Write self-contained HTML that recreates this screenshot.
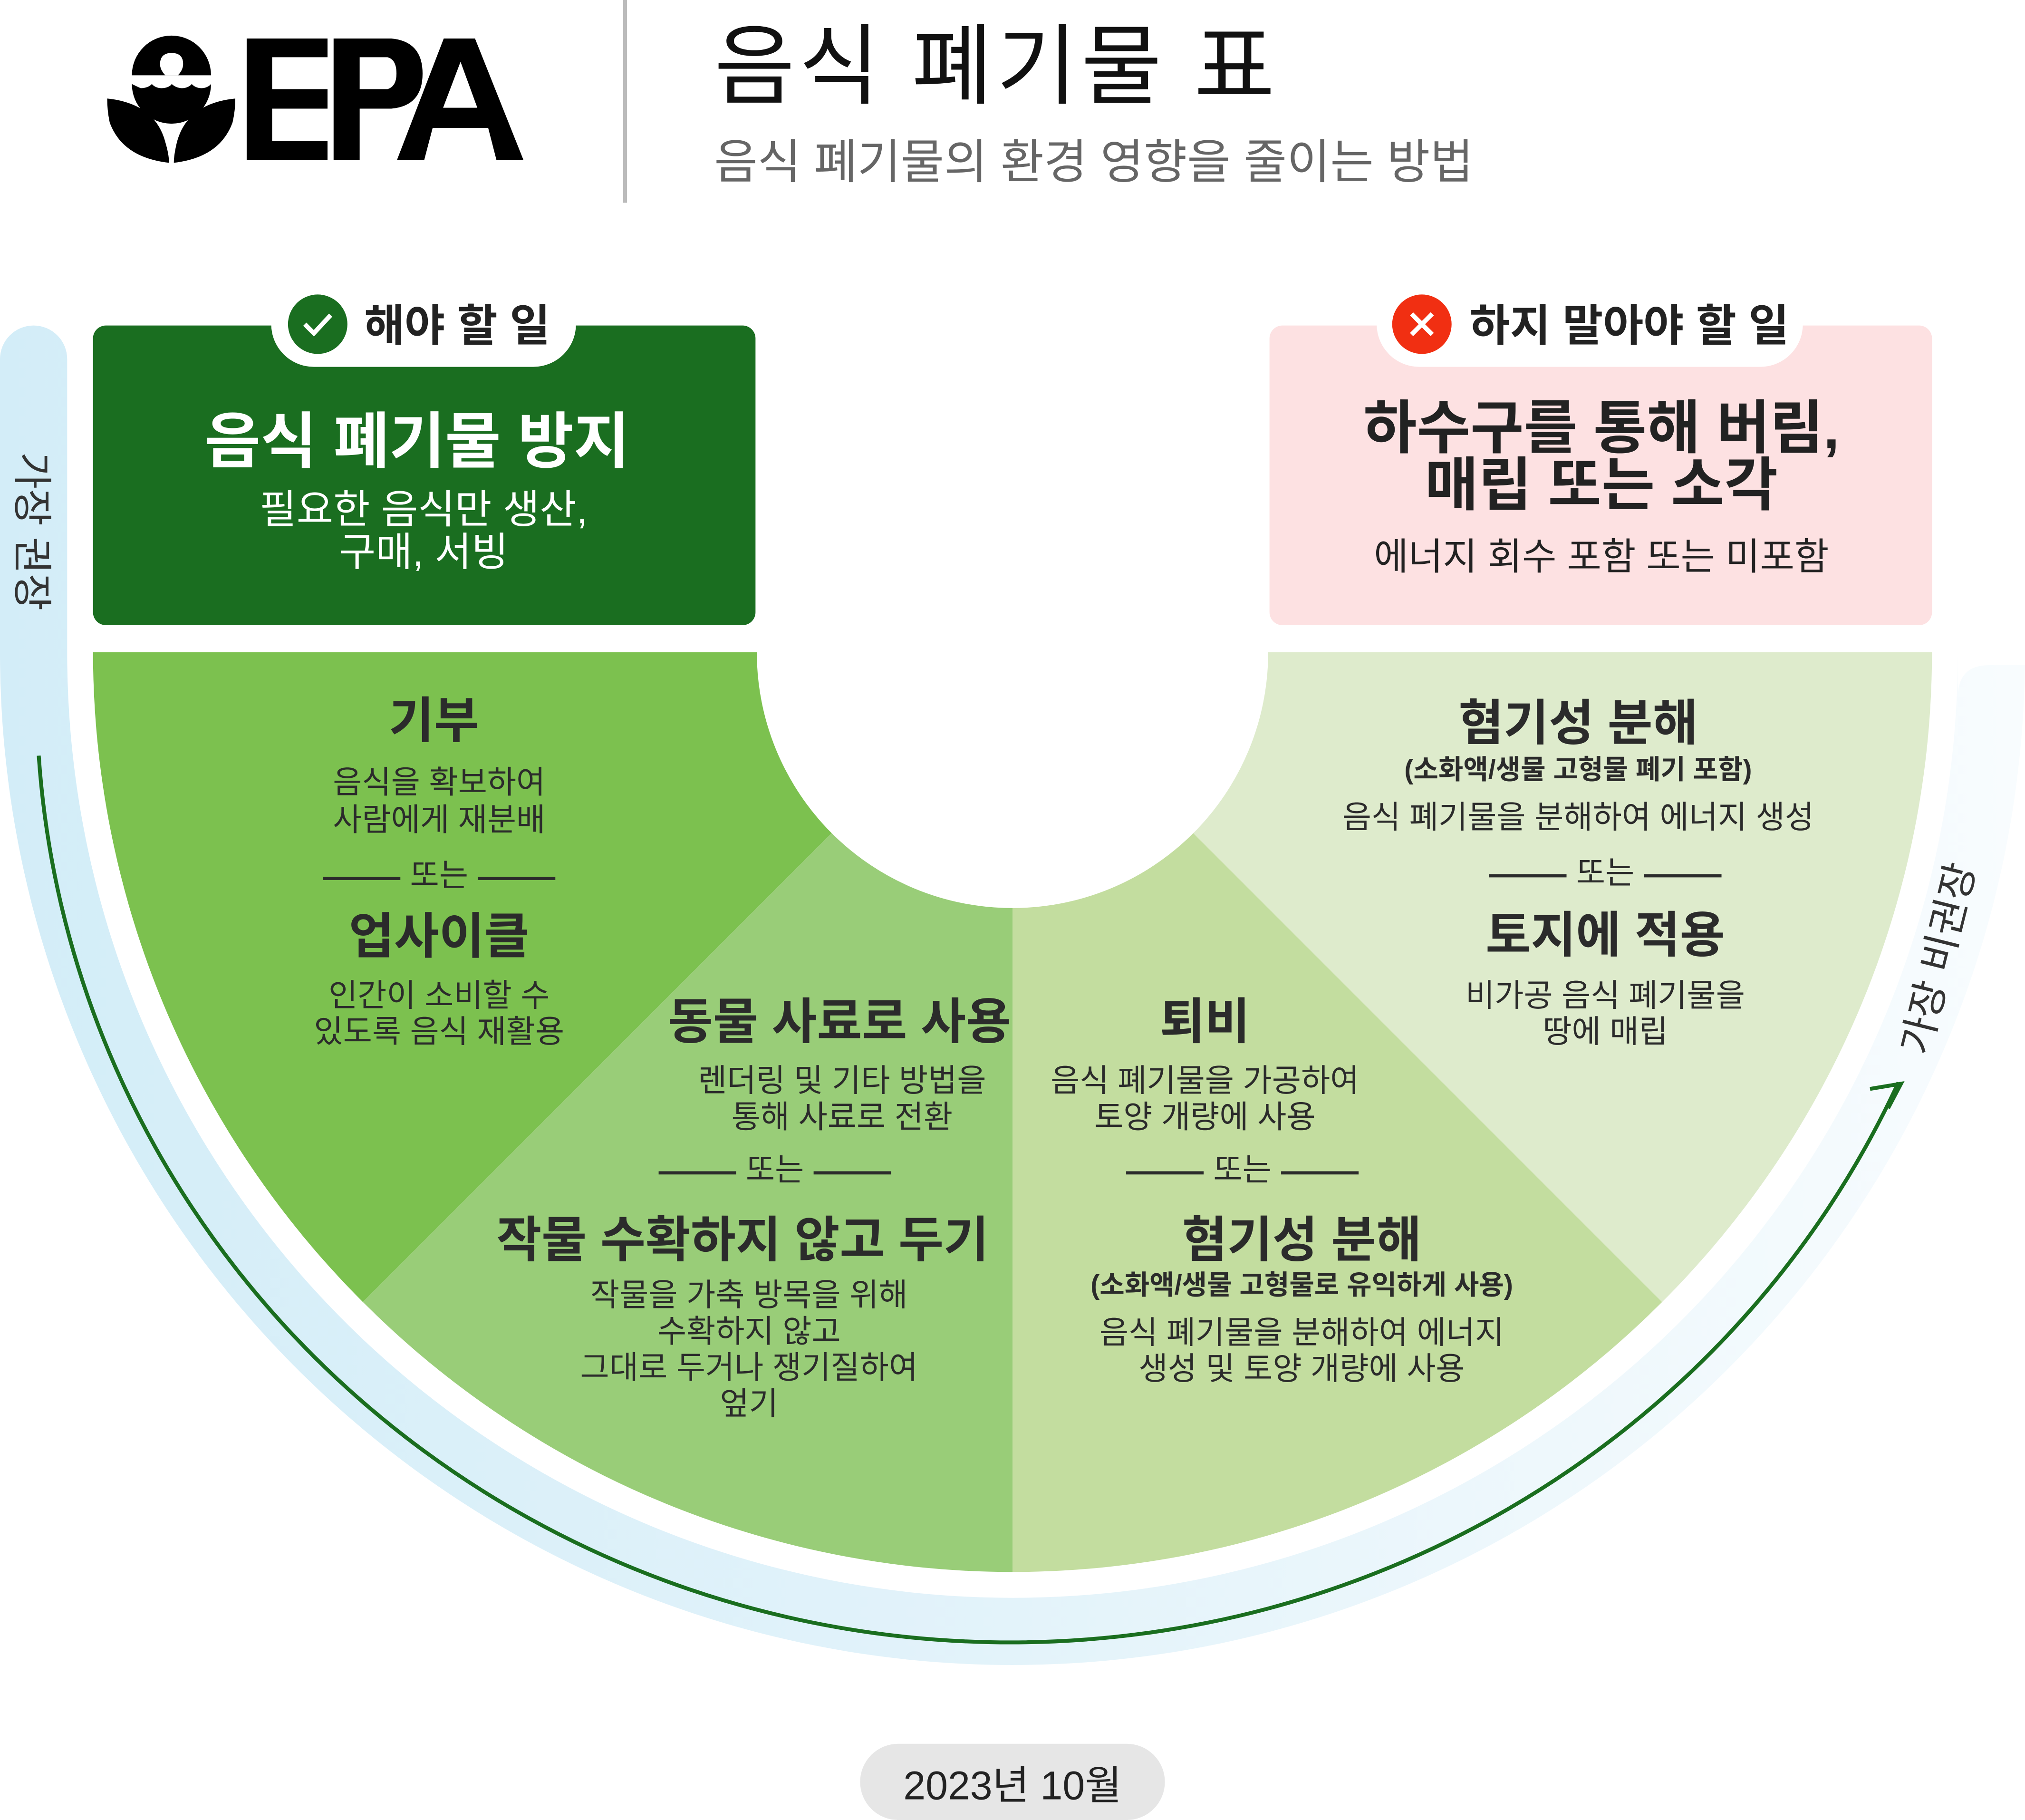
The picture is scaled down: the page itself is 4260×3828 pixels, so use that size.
<!DOCTYPE html>
<html><head><meta charset="utf-8">
<style>
html,body{margin:0;padding:0;background:#fff;}
svg{display:block;}
text{font-family:"Liberation Sans","Noto Sans CJK KR",sans-serif;}
.b{font-weight:700;}
</style></head>
<body>
<svg width="4260" height="3828" viewBox="0 0 1568 1409" xmlns="http://www.w3.org/2000/svg">
<defs>
<linearGradient id="band" x1="0" y1="0" x2="1" y2="0">
<stop offset="0" stop-color="#d3edf8"/>
<stop offset="0.5" stop-color="#e3f3fa"/>
<stop offset="1" stop-color="#f8fcfe"/>
</linearGradient>
</defs>
<rect width="1568" height="1409" fill="#fff"/>

<!-- Logo -->
<g fill="#000">
<path d="M102.1,58.3 A30.6,30.7 0 0 1 163.4,58.3 Z"/>
<path d="M102.1,65 Q104,66 109,68.3 Q115,68 117.6,65 Q120,68 125,68.3 Q131,68 133,65 Q136,68 141,68.3 Q146,68 148.5,65 Q151,68 156,68.3 Q161,68 163.4,65 A30.6,30.7 0 0 1 102.1,65 Z"/>
<path d="M83,76.3 Q120,80 128,110 Q131,120 130.8,126 Q95,122 85,95 Q83,86 83,76.3 Z"/>
<path d="M182.2,76.3 Q145,80 137,110 Q134.6,120 134.6,126 Q170,122 180,95 Q182.2,86 182.2,76.3 Z"/>
<path d="M191,29.8 H253.6 V44.3 H210.7 V69 H253.6 V84.1 H210.7 V109.2 H253.6 V123.8 H191 Z"/>
<path d="M258.3,29.8 H303 Q327.2,32 327.2,57 Q327.2,82 303,84.1 H278.5 V123.8 H258.3 Z M278.5,44.3 V69 H300 Q307,67 307,57 Q307,46 300,44.3 Z" fill-rule="evenodd"/>
<path d="M343.6,29.8 H367.8 L405.3,123.8 H384.4 L378,99 H335 L328.5,123.8 H307.4 Z M356.6,47.8 L343.1,83.4 H369.6 Z" fill-rule="evenodd"/>
</g>
<path d="M128,58.3 Q123.9,54 123.9,49.6 Q124,41 132.9,41 Q141.8,41 141.8,49.6 Q141.8,54 137.8,58.3 Z" fill="#fff"/>

<line x1="484" y1="0" x2="484" y2="157" stroke="#bbb" stroke-width="3"/>
<text x="553" y="75" font-size="68" fill="#111" letter-spacing="3">음식 폐기물 표</text>
<text x="553" y="138" font-size="36.5" fill="#666">음식 폐기물의 환경 영향을 줄이는 방법</text>

<!-- blue band -->
<path d="M0,278 A26,26 0 0 1 52,278 L52,505 A732,732 0 0 0 1516,505 L1516,540 Q1516,515 1540,515 L1568,515 L1568,505 A784,784 0 0 1 0,505 Z" fill="url(#band)"/>
<text transform="translate(14,350) rotate(90)" font-size="31" fill="#333">가장 권장</text>
<text transform="translate(1493,818) rotate(-76)" font-size="31" fill="#333">가장 비권장</text>

<!-- arrow -->
<path d="M30,585 A754,735 0 0 0 1470,838" fill="none" stroke="#1a6e1f" stroke-width="3"/>
<path d="M1448,843 L1472,839 L1462,858" fill="none" stroke="#1a6e1f" stroke-width="3"/>

<!-- top boxes -->
<rect x="72" y="252" width="513" height="232" rx="10" fill="#1a6e20"/>
<rect x="983" y="252" width="513" height="232" rx="10" fill="#fde1e2"/>
<rect x="210" y="218" width="236" height="66" rx="33" fill="#fff"/>
<circle cx="246" cy="251" r="23" fill="#1a6e20"/>
<path d="M236,251 L243,258 L256,244" fill="none" stroke="#fff" stroke-width="3.5"/>
<text x="282" y="264" font-size="34" class="b" fill="#222">해야 할 일</text>
<rect x="1066" y="218" width="330" height="66" rx="33" fill="#fff"/>
<circle cx="1101" cy="251" r="23" fill="#f12f12"/>
<path d="M1093,243 L1109,259 M1109,243 L1093,259" stroke="#fff" stroke-width="3.5"/>
<text x="1138" y="264" font-size="34" class="b" fill="#222">하지 말아야 할 일</text>

<g text-anchor="middle">
<text x="323" y="358" font-size="47" class="b" fill="#fff">음식 폐기물 방지</text>
<text x="328" y="405" font-size="31" fill="#fff">필요한 음식만 생산,</text>
<text x="328" y="438" font-size="31" fill="#fff">구매, 서빙</text>
<text x="1240" y="347" font-size="45" class="b" fill="#222">하수구를 통해 버림,</text>
<text x="1240" y="391" font-size="45" class="b" fill="#222">매립 또는 소각</text>
<text x="1240" y="441" font-size="29" fill="#222">에너지 회수 포함 또는 미포함</text>
</g>

<!-- donut -->
<path d="M72,505 L586,505 A198,198 0 0 0 644,645 L281,1008 A712,712 0 0 1 72,505 Z" fill="#7cc14f"/>
<path d="M644,645 A198,198 0 0 0 784,703 L784,1217 A712,712 0 0 1 281,1008 Z" fill="#99cd78"/>
<path d="M784,703 A198,198 0 0 0 924,645 L1287,1008 A712,712 0 0 1 784,1217 Z" fill="#c3dd9f"/>
<path d="M924,645 A198,198 0 0 0 982,505 L1496,505 A712,712 0 0 1 1287,1008 Z" fill="#deebcc"/>

<g text-anchor="middle" fill="#2b2b2b">
<text x="336" y="571" font-size="38" class="b">기부</text>
<text x="340" y="614" font-size="24.5">음식을 확보하여</text>
<text x="340" y="643" font-size="24.5">사람에게 재분배</text>
<text x="340" y="686" font-size="24.5">또는</text>
<text x="340" y="738" font-size="38" class="b">업사이클</text>
<text x="340" y="779" font-size="24.5">인간이 소비할 수</text>
<text x="340" y="807" font-size="24.5">있도록 음식 재활용</text>

<text x="650" y="804" font-size="38" class="b">동물 사료로 사용</text>
<text x="652" y="845" font-size="24.5">렌더링 및 기타 방법을</text>
<text x="652" y="873" font-size="24.5">통해 사료로 전환</text>
<text x="600" y="914" font-size="24.5">또는</text>
<text x="575" y="973" font-size="38" class="b">작물 수확하지 않고 두기</text>
<text x="580" y="1011" font-size="24.5">작물을 가축 방목을 위해</text>
<text x="580" y="1039" font-size="24.5">수확하지 않고</text>
<text x="580" y="1067" font-size="24.5">그대로 두거나 쟁기질하여</text>
<text x="580" y="1095" font-size="24.5">엎기</text>

<text x="933" y="804" font-size="38" class="b">퇴비</text>
<text x="933" y="845" font-size="24.5">음식 폐기물을 가공하여</text>
<text x="933" y="873" font-size="24.5">토양 개량에 사용</text>
<text x="962" y="914" font-size="24.5">또는</text>
<text x="1008" y="973" font-size="38" class="b">혐기성 분해</text>
<text x="1008" y="1002" font-size="21" class="b">(소화액/생물 고형물로 유익하게 사용)</text>
<text x="1008" y="1040" font-size="24.5">음식 폐기물을 분해하여 에너지</text>
<text x="1008" y="1068" font-size="24.5">생성 및 토양 개량에 사용</text>

<text x="1222" y="573" font-size="38" class="b">혐기성 분해</text>
<text x="1222" y="603" font-size="21" class="b">(소화액/생물 고형물 폐기 포함)</text>
<text x="1222" y="641" font-size="24.5">음식 폐기물을 분해하여 에너지 생성</text>
<text x="1243" y="684" font-size="24.5">또는</text>
<text x="1243" y="737" font-size="38" class="b">토지에 적용</text>
<text x="1243" y="779" font-size="24.5">비가공 음식 폐기물을</text>
<text x="1243" y="807" font-size="24.5">땅에 매립</text>
</g>
<g stroke="#2b2b2b" stroke-width="2.5">
<line x1="250" y1="680" x2="310" y2="680"/><line x1="370" y1="680" x2="430" y2="680"/>
<line x1="510" y1="908" x2="570" y2="908"/><line x1="630" y1="908" x2="690" y2="908"/>
<line x1="872" y1="908" x2="932" y2="908"/><line x1="992" y1="908" x2="1052" y2="908"/>
<line x1="1153" y1="678" x2="1213" y2="678"/><line x1="1273" y1="678" x2="1333" y2="678"/>
</g>

<!-- date -->
<rect x="666" y="1350" width="236" height="59" rx="29.5" fill="#e6e6e6"/>
<text x="784" y="1393" font-size="31" text-anchor="middle" fill="#222">2023년 10월</text>
</svg>
</body></html>
